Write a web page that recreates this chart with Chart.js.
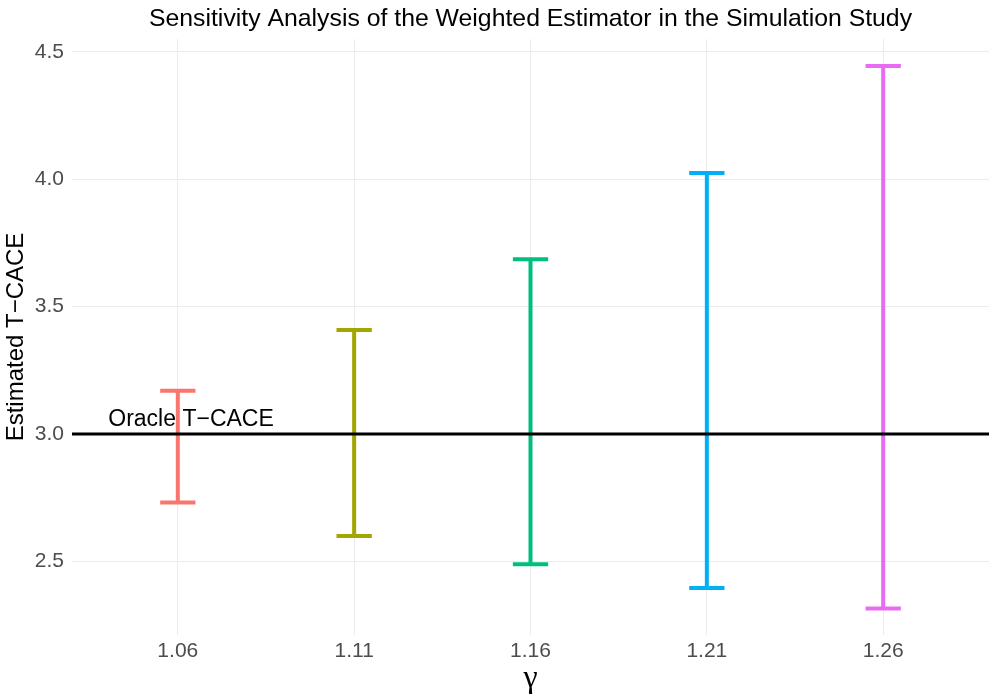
<!DOCTYPE html>
<html>
<head>
<meta charset="utf-8">
<script src="https://cdn.jsdelivr.net/npm/chart.js@4"></script>
<style>
  body { margin: 0; background: #ffffff; }
  #wrap { width: 997px; height: 698px; position: relative; }
</style>
</head>
<body>
<div id="wrap"><canvas id="sensChart"></canvas></div>
<script>
"use strict";

// values
const gammas = ['1.06', '1.11', '1.16', '1.21', '1.26'];
const lowerCI = [2.732, 2.600, 2.490, 2.396, 2.316];
const upperCI = [3.170, 3.408, 3.686, 4.024, 4.444];
const barColors = ['#F8766D', '#A3A500', '#00BF7D', '#00B0F6', '#E76BF3'];
const oracleValue = 3.0;
const oracleText = 'Oracle T\u2212CACE';
const oracleLabelX = 1.075; // in category units, 1 = first gamma
const yTicks = [2.5, 3.0, 3.5, 4.0, 4.5];
const titleText = 'Sensitivity Analysis of the Weighted Estimator in the Simulation Study';

const capHalf = 0.1;   // half width of error bar caps (category units)
const FONT = "'Liberation Sans', Arial, sans-serif";

// one dataset per error bar: top cap, stem, bottom cap (null = gap)
function errorbar_data(i) {
  const x = i + 1;
  const lo = lowerCI[i], hi = upperCI[i];
  return [
    {x: x - capHalf, y: hi}, {x: x + capHalf, y: hi},
    {x: x, y: null},
    {x: x, y: hi}, {x: x, y: lo},
    {x: x, y: null},
    {x: x - capHalf, y: lo}, {x: x + capHalf, y: lo}
  ];
}

const datasets = gammas.map((g, i) => ({
  label: g,
  data: errorbar_data(i),
  borderColor: barColors[i],
  borderWidth: 4,
  borderCapStyle: 'butt',
  pointRadius: 0,
  spanGaps: false,
  order: 1
}));

// the oracle reference line
datasets.push({
  label: 'oracle',
  data: [{x: 0.4, y: oracleValue}, {x: gammas.length + 0.6, y: oracleValue}],
  borderColor: '#000000',
  borderWidth: 3,
  pointRadius: 0,
  clip: false,
  order: 0
});

// title centred on the panel (like ggplot), plus the oracle label
const extraText = {
  id: 'extraText',
  afterDraw(chart) {
    const ctx = chart.ctx;
    const xs = chart.scales.x, ys = chart.scales.y;
    const area = chart.chartArea;
    ctx.save();
    ctx.fillStyle = '#000000';
    ctx.textAlign = 'center';
    ctx.textBaseline = 'alphabetic';
    ctx.font = '24.8px ' + FONT;
    ctx.fillText(titleText, (area.left + area.right) / 2, 26);
    ctx.font = '23px ' + FONT;
    ctx.fillText(oracleText, xs.getPixelForValue(oracleLabelX), ys.getPixelForValue(oracleValue) - 8);
    ctx.restore();
  }
};

const config = {
  type: 'line',
  data: { datasets: datasets },
  options: {
    responsive: true,
    maintainAspectRatio: false,
    animation: false,
    layout: { padding: { top: 39, right: 8, bottom: 0, left: 0 } },
    plugins: {
      legend: { display: false },
      tooltip: { enabled: false },
      title: { display: false }
    },
    scales: {
      x: {
        type: 'linear',
        min: 0.4,
        max: gammas.length + 0.6,
        afterBuildTicks: (scale) => {
          scale.ticks = gammas.map((g, i) => ({ value: i + 1 }));
        },
        afterFit: (scale) => { scale.height = 63; },
        grid: { color: '#EBEBEB', lineWidth: 1, drawTicks: false },
        border: { display: false },
        ticks: {
          color: '#4D4D4D',
          font: { family: FONT, size: 21 },
          padding: 4,
          maxRotation: 0,
          autoSkip: false,
          callback: (v) => gammas[Math.round(v) - 1] || ''
        },
        title: {
          display: true,
          text: '\u03B3',
          color: '#000000',
          font: { family: "'Liberation Serif', 'DejaVu Serif', serif", size: 32 },
          padding: { top: 0, bottom: 0 }
        }
      },
      y: {
        type: 'linear',
        min: 2.212,
        max: 4.55,
        afterBuildTicks: (scale) => {
          scale.ticks = yTicks.map(v => ({ value: v }));
        },
        afterFit: (scale) => { scale.width = 72; },
        grid: { color: '#EBEBEB', lineWidth: 1, drawTicks: false },
        border: { display: false },
        ticks: {
          color: '#4D4D4D',
          font: { family: FONT, size: 21 },
          padding: 8,
          callback: (v) => v.toFixed(1)
        },
        title: {
          display: true,
          text: 'Estimated T\u2212CACE',
          color: '#000000',
          font: { family: FONT, size: 24 },
          padding: { top: 2, bottom: 0 }
        }
      }
    }
  },
  plugins: [extraText]
};

const sensChart = new Chart('sensChart', config);
</script>
</body>
</html>
